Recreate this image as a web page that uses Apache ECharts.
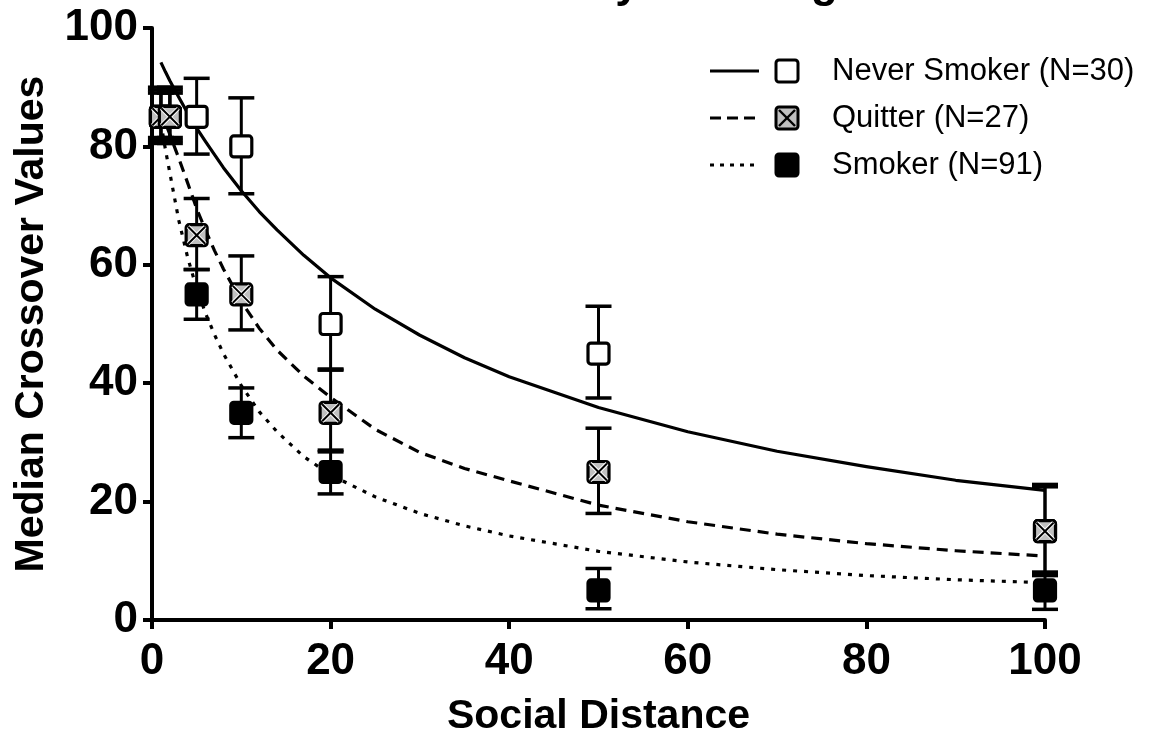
<!DOCTYPE html>
<html>
<head>
<meta charset="utf-8">
<script src="https://cdn.jsdelivr.net/npm/echarts@6/dist/echarts.min.js"></script>
<style>
  html, body { margin: 0; padding: 0; background: #fff; }
  #main { width: 1150px; height: 742px; }
</style>
</head>
<body>
<div id="main"></div>
<script>
// 社会距离
var distances = [1, 2, 5, 10, 20, 50, 100];

// 中位数 + 误差线上下端
var neverMedian = [85, 85, 85, 80, 50, 45, 15];
var neverUpper  = [89.5, 89.5, 91.5, 88.2, 58, 53, 22.9];
var neverLower  = [80.5, 80.5, 78.7, 72, 42.4, 37.5, 7.5];

var quitterMedian = [85, 85, 65, 55, 35, 25, 15];
var quitterUpper  = [90, 90, 71.2, 61.5, 42.2, 32.4, 22.5];
var quitterLower  = [81.5, 81.5, 59.2, 49, 28.4, 18, 7.8];

var smokerMedian = [85, 85, 55, 35, 25, 5, 5];
var smokerUpper  = [89, 89, 59.2, 39.2, 28.7, 8.7, 8.1];
var smokerLower  = [81, 81, 50.8, 30.8, 21.3, 1.9, 1.8];

// 拟合曲线
var fitDistances = [1, 1.5, 2, 3, 4, 5, 6, 7, 8, 10, 12, 14, 17, 20, 25, 30, 35, 40, 50, 60, 70, 80, 90, 100];
var neverFit   = [94.2, 92.6, 91.1, 88.3, 85.6, 83.1, 80.8, 78.6, 76.4, 72.5, 69.0, 65.9, 61.6, 57.8, 52.5, 48.1, 44.3, 41.1, 35.9, 31.8, 28.5, 25.9, 23.6, 21.9];
var quitterFit = [86, 84, 82, 78, 73.8, 69.5, 65.8, 62.4, 59.3, 53.8, 49.3, 45.6, 41.2, 37.6, 32.2, 28.3, 25.6, 23.5, 19.4, 16.6, 14.5, 12.9, 11.7, 10.8];
var smokerFit  = [84, 79.5, 75.5, 67.5, 61.2, 56, 51.8, 48.2, 45, 39.6, 35.2, 31.8, 27.6, 24.5, 20.8, 18, 15.9, 14.2, 11.6, 9.8, 8.5, 7.5, 6.8, 6.3];

var FONT = '"Liberation Sans", Arial, sans-serif';

function pairs(xs, ys) {
    var out = [];
    for (var i = 0; i < xs.length; i++) {
        out.push([xs[i], ys[i]]);
    }
    return out;
}

function fitSeries(name, data, dash) {
    return {
        name: name,
        type: 'line',
        data: pairs(fitDistances, data),
        smooth: false,
        showSymbol: false,
        silent: true,
        z: 2,
        lineStyle: { color: '#000', width: 3.2, type: dash, join: 'round' }
    };
}

// 误差线 + 方块标记
function errSeries(name, med, up, lo, fill, cross, z) {
    var data = [];
    for (var i = 0; i < distances.length; i++) {
        data.push([distances[i], med[i], lo[i], up[i]]);
    }
    return {
        name: name,
        type: 'custom',
        coordinateSystem: 'cartesian2d',
        z: z,
        silent: true,
        encode: { x: 0, y: [1, 2, 3] },
        data: data,
        renderItem: function (params, api) {
            var x = api.value(0);
            var c = api.coord([x, api.value(1)]);
            var lo = api.coord([x, api.value(2)]);
            var hi = api.coord([x, api.value(3)]);
            var hw = 13, s = 21;
            var kids = [
                { type: 'line', shape: { x1: c[0], y1: hi[1], x2: c[0], y2: lo[1] }, style: { stroke: '#000', lineWidth: 3 } },
                { type: 'line', shape: { x1: c[0] - hw, y1: hi[1], x2: c[0] + hw, y2: hi[1] }, style: { stroke: '#000', lineWidth: 3.5 } },
                { type: 'line', shape: { x1: c[0] - hw, y1: lo[1], x2: c[0] + hw, y2: lo[1] }, style: { stroke: '#000', lineWidth: 3.5 } },
                { type: 'rect', shape: { x: c[0] - s / 2, y: c[1] - s / 2, width: s, height: s, r: 3 }, style: { fill: fill, stroke: '#000', lineWidth: 3.2 } }
            ];
            if (cross) {
                var d = s / 2 - 2;
                kids.push({ type: 'line', shape: { x1: c[0] - d, y1: c[1] - d, x2: c[0] + d, y2: c[1] + d }, style: { stroke: '#fff', lineWidth: 4 } });
                kids.push({ type: 'line', shape: { x1: c[0] - d, y1: c[1] + d, x2: c[0] + d, y2: c[1] - d }, style: { stroke: '#fff', lineWidth: 4 } });
                kids.push({ type: 'line', shape: { x1: c[0] - d, y1: c[1] - d, x2: c[0] + d, y2: c[1] + d }, style: { stroke: '#000', lineWidth: 2 } });
                kids.push({ type: 'line', shape: { x1: c[0] - d, y1: c[1] + d, x2: c[0] + d, y2: c[1] - d }, style: { stroke: '#000', lineWidth: 2 } });
            }
            return { type: 'group', children: kids };
        }
    };
}

// 图例(线型 + 标记 + 文字)
function legendItem(y, dash, fill, cross, label) {
    var items = [
        { type: 'line', shape: { x1: 710, y1: y, x2: 759, y2: y }, style: { stroke: '#000', lineWidth: 3, lineDash: dash } },
        { type: 'rect', shape: { x: 776, y: y - 11, width: 22, height: 22, r: 3 }, style: { fill: fill, stroke: '#000', lineWidth: 3 } },
        { type: 'text', x: 832, y: y, style: { text: label, font: '31px ' + FONT, fill: '#000', verticalAlign: 'middle' } }
    ];
    if (cross) {
        items.push({ type: 'line', shape: { x1: 779, y1: y - 8, x2: 795, y2: y + 8 }, style: { stroke: '#000', lineWidth: 2.4 } });
        items.push({ type: 'line', shape: { x1: 779, y1: y + 8, x2: 795, y2: y - 8 }, style: { stroke: '#000', lineWidth: 2.4 } });
    }
    return items;
}

var chart = echarts.init(document.getElementById('main'));

var axisCommon = {
    type: 'value',
    min: 0,
    max: 100,
    interval: 20,
    splitLine: { show: false },
    axisLine: { show: true, lineStyle: { color: '#000', width: 4 } },
    axisTick: { show: true, length: 9, lineStyle: { color: '#000', width: 4 } },
    axisLabel: { color: '#000', fontSize: 44, fontWeight: 'bold', fontFamily: FONT },
    nameLocation: 'middle',
    nameTextStyle: { color: '#000', fontSize: 41, fontWeight: 'bold', fontFamily: FONT }
};

var option = {
    animation: false,
    backgroundColor: '#fff',
    grid: { left: 152, right: 105, top: 28, bottom: 119, containLabel: false },
    xAxis: Object.assign({}, axisCommon, {
        name: 'Social Distance',
        nameGap: 76,
        axisLabel: Object.assign({}, axisCommon.axisLabel, { margin: 20 })
    }),
    yAxis: Object.assign({}, axisCommon, {
        name: 'Median Crossover Values',
        nameGap: 100,
        axisLabel: Object.assign({}, axisCommon.axisLabel, { margin: 14 })
    }),
    graphic: [
        { type: 'text', x: 251, y: 7, style: { text: 'Social Distance by Smoking Status', font: 'bold 44px ' + FONT, fill: '#000', verticalAlign: 'bottom' } }
    ].concat(
        legendItem(71, null, '#fff', false, 'Never Smoker (N=30)'),
        legendItem(118, [11, 6], '#c0c0c0', true, 'Quitter (N=27)'),
        legendItem(165, [4, 6], '#000', false, 'Smoker (N=91)')
    ),
    series: [
        fitSeries('Never Smoker fit', neverFit, 'solid'),
        fitSeries('Quitter fit', quitterFit, [11, 7]),
        fitSeries('Smoker fit', smokerFit, [4, 7]),
        errSeries('Never Smoker (N=30)', neverMedian, neverUpper, neverLower, '#fff', false, 5),
        errSeries('Smoker (N=91)', smokerMedian, smokerUpper, smokerLower, '#000', false, 6),
        errSeries('Quitter (N=27)', quitterMedian, quitterUpper, quitterLower, '#c0c0c0', true, 7)
    ]
};

chart.setOption(option);
</script>
</body>
</html>
